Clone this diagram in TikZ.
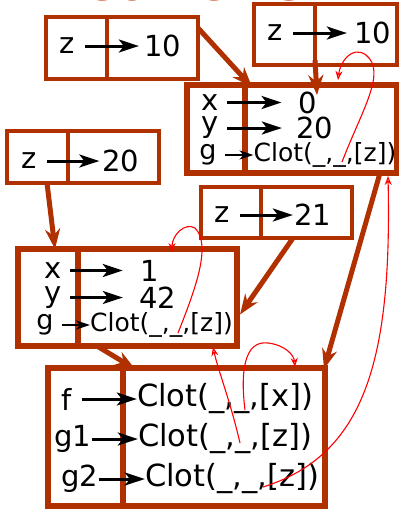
\documentclass[tikz,border=0pt]{standalone}
\usepackage{fontspec}
\setmainfont{DejaVu Sans}
\usetikzlibrary{arrows.meta}
\definecolor{frame}{RGB}{176,48,0}
\definecolor{titlered}{RGB}{205,80,40}
\begin{document}
\begin{tikzpicture}[x=1pt,y=-1pt,
 thinbox/.style={draw=frame, line width=3.8pt, inner sep=0pt, outer sep=0pt},
 thickbox/.style={draw=frame, line width=5.5pt, inner sep=0pt, outer sep=0pt},
 lbl/.style={inner sep=0pt, font=\fontsize{29}{29}\selectfont},
 lblm/.style={inner sep=0pt, font=\fontsize{27}{27}\selectfont},
 small/.style={inner sep=0pt, font=\fontsize{25}{25}\selectfont},
 big/.style={inner sep=0pt, font=\fontsize{30.5}{30.5}\selectfont},
 blk/.style={draw=black, line width=3pt, -{Stealth[length=20pt,width=13pt,inset=5pt]}},
 blks/.style={draw=black, line width=2pt, -{Stealth[length=14pt,width=9pt,inset=4pt]}},
 conn/.style={draw=frame, line width=5pt, -{Stealth[length=20pt,width=15pt]}},
 ref/.style={draw=red, line width=1.1pt, -{Stealth[open,length=9pt,width=7pt]}}
]
\useasboundingbox (0,0) rectangle (399,509);
\fill[white] (0,0) rectangle (399,509);

% clipped title
\begin{scope}
\clip (0,0) rectangle (399,509);
\node[text=titlered, inner sep=0pt, anchor=base, font=\fontsize{49}{49}\selectfont] (title) at (193,0.5) {Contents};
\end{scope}

% Box A
\node[thinbox, minimum width=61pt, minimum height=62pt] (A1) at (76.5,48) {};
\node[thinbox, minimum width=91pt, minimum height=62pt] (A2) at (152.5,48) {};
\node[lbl] (Az) at (67,46) {z};
\node[lbl] (Av) at (163,46) {10};
\draw[blk, shorten <=10.5pt, shorten >=5.5pt] (Az.east) -- (Av.west);

% Box B
\node[thinbox, minimum width=61pt, minimum height=61pt] (B1) at (284.5,34.5) {};
\node[thinbox, minimum width=82pt, minimum height=61pt] (B2) at (356,34.5) {};
\node[lbl] (Bz) at (275,33) {z};
\node[lbl] (Bv) at (373,33) {10};
\draw[blk, shorten <=10.5pt, shorten >=7.5pt] (Bz.east) -- (Bv.west);

% Box C
\node[thickbox, minimum width=58pt, minimum height=88pt] (C1) at (216,129) {};
\node[thickbox, minimum width=152pt, minimum height=88pt] (C2) at (321,129) {};
\node[lbl] (Cx) at (210,102.5) {x};
\node[lbl] (Cxv) at (308,102.5) {0};
\draw[blk, shorten <=8.5pt, shorten >=17pt] (Cx.east) -- (Cxv.west);
\node[lbl] (Cy) at (210,128) {y};
\node[lbl] (Cyv) at (315,128) {20};
\draw[blk, shorten <=8.5pt, shorten >=14.5pt] (Cy.east) -- (Cyv.west);
\node[lblm] (Cg) at (208,155) {g};
\node[small] (Cc) at (325,155) {Clot(\_,\_,[z])};
\draw[blks, shorten <=8.5pt, shorten >=0pt] (Cg.east) -- (Cc.west);

% Box D
\node[thinbox, minimum width=61pt, minimum height=52pt] (D1) at (37.5,157) {};
\node[thinbox, minimum width=91pt, minimum height=52pt] (D2) at (113.5,157) {};
\node[lbl] (Dz) at (29,161) {z};
\node[lbl] (Dv) at (121,161) {20};
\draw[blk, shorten <=10.5pt, shorten >=3pt] (Dz.east) -- (Dv.west);

% Box E
\node[thinbox, minimum width=60pt, minimum height=51pt] (E1) at (231,212.5) {};
\node[thinbox, minimum width=91pt, minimum height=51pt] (E2) at (306.5,212.5) {};
\node[lbl] (Ez) at (222,215) {z};
\node[lbl] (Ev) at (313,215) {21};
\draw[blk, shorten <=10.5pt, shorten >=1.5pt] (Ez.east) -- (Ev.west);

% Box F
\node[thickbox, minimum width=60pt, minimum height=97pt] (F1) at (48,297.5) {};
\node[thickbox, minimum width=159pt, minimum height=97pt] (F2) at (157.5,297.5) {};
\node[lbl] (Fx) at (53,270.5) {x};
\node[lbl] (Fxv) at (150,270.5) {1};
\draw[blk, shorten <=8.5pt, shorten >=17.8pt] (Fx.east) -- (Fxv.west);
\node[lbl] (Fy) at (53,297.5) {y};
\node[lbl] (Fyv) at (158,297.5) {42};
\draw[blk, shorten <=8.5pt, shorten >=16.5pt] (Fy.east) -- (Fyv.west);
\node[lblm] (Fg) at (45,325) {g};
\node[small] (Fc) at (161.5,325) {Clot(\_,\_,[z])};
\draw[blks, shorten <=8.5pt, shorten >=0pt] (Fg.east) -- (Fc.west);

% Box G
\node[thickbox, minimum width=75pt, minimum height=138pt] (G1) at (85.5,437) {};
\node[thickbox, minimum width=202pt, minimum height=138pt] (G2) at (224,437) {};
\node[lbl] (Gf) at (67,399) {f};
\node[big] (Gc1) at (225,399) {Clot(\_,\_,[x])};
\draw[blk, shorten <=10pt, shorten >=0pt] (Gf.east) -- (Gc1.west);
\node[lbl] (Gg1) at (73,439) {g1};
\node[big] (Gc2) at (225,439) {Clot(\_,\_,[z])};
\draw[blk] (Gg1.east) -- (Gc2.west);
\node[lbl] (Gg2) at (80,479) {g2};
\node[big] (Gc3) at (232,479) {Clot(\_,\_,[z])};
\draw[blk] (Gg2.east) -- (Gc3.west);

% brown connectors
\draw[conn] ([yshift=-11pt]A2.north east) -- ([xshift=7pt,yshift=-2pt]C2.north west);
\draw[conn] ([yshift=5pt]B1.south east) -- ([xshift=72pt,yshift=-10pt]C2.north west);
\draw[conn] ([xshift=40pt]D1.south west) -- ([xshift=37pt]F1.north west);
\draw[conn] ([xshift=32pt]E2.south west) -- ([xshift=3pt,yshift=-17pt]F2.east);
\draw[conn] ([xshift=-17pt]C2.south east) -- ([xshift=-1pt,yshift=-1pt]G2.north east);
\draw[conn] ([xshift=19pt]F2.south west) -- ([xshift=12pt,yshift=-1pt]G2.north west);

% red references
\coordinate (r1) at (342,162);
\coordinate (r1e) at (338,80);
\coordinate (r2) at (178,333);
\coordinate (r2e) at (172,252);
\coordinate (r3) at (240,443);
\coordinate (r3e) at (213,347);
\coordinate (r4) at (245,410);
\coordinate (r4e) at (295,367);
\coordinate (r5) at (263,487);
\coordinate (r5e) at (388,176);
\draw[ref] (r1) .. controls (362,110) and (387,72) .. (366,55) .. controls (352,45) and (340,62) .. (r1e);
\draw[ref] (r2) .. controls (195,290) and (212,245) .. (195,228) .. controls (185,222) and (172,235) .. (r2e);
\draw[ref] (r3) .. controls (230,400) and (218,370) .. (r3e);
\draw[ref] (r4) .. controls (240,370) and (245,340) .. (268,343) .. controls (285,345) and (294,355) .. (r4e);
\draw[ref] (r5) .. controls (365,455) and (392,360) .. (r5e);
\end{tikzpicture}
\end{document}
